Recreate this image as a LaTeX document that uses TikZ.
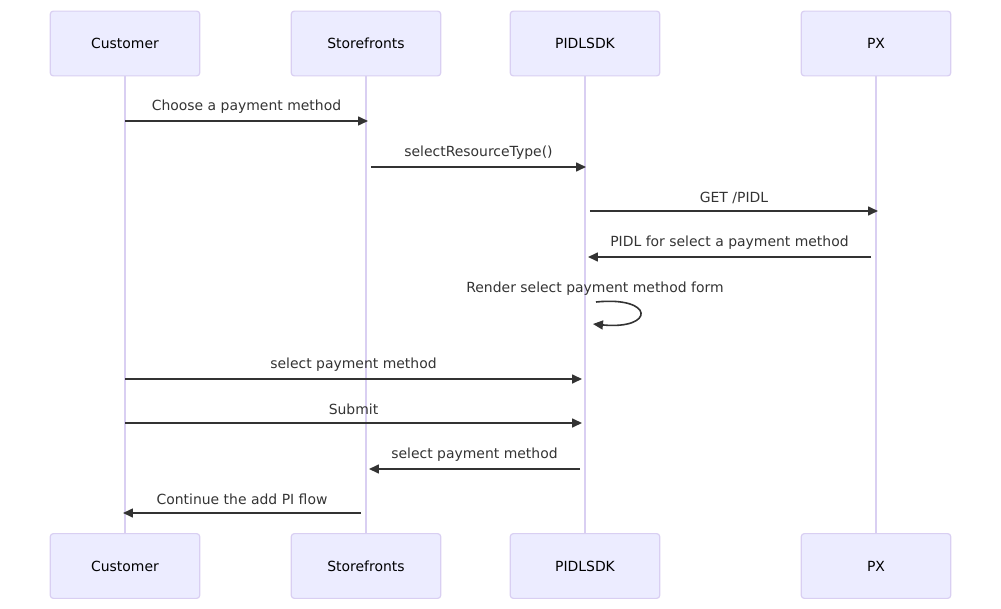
\documentclass[tikz,border=0pt]{standalone}
\usepackage{fontspec}
\setmainfont{DejaVu Sans}
\usetikzlibrary{arrows.meta}
\definecolor{actorfill}{HTML}{ECECFF}
\definecolor{actorline}{HTML}{D9CFF2}
\definecolor{ink}{HTML}{333333}
\tikzset{
    actor/.style = {rectangle, rounded corners=3, draw=actorline, fill=actorfill, line width=1.2,
                    minimum width=150, minimum height=65, inner sep=0, text=black, font=\fontsize{14}{16}\selectfont},
    life/.style = {draw=actorline, line width=1.5},
    msg/.style = {-{Triangle[length=10pt,width=9pt]}, ink, line width=1.6},
    msglabel/.style = {text=ink, font=\fontsize{14}{16}\selectfont, inner sep=0, text height=11, text depth=3},
}

\begin{document}
\begin{tikzpicture}[x=1bp,y=-1bp]
\useasboundingbox (0,0) rectangle (1001,609);
% actors, top and bottom
\node[actor] at (125, 43.5) (custT) {Customer};
\node[actor] at (366, 43.5) (storeT) {Storefronts};
\node[actor] at (585, 43.5) (sdkT) {PIDLSDK};
\node[actor] at (876, 43.5) (pxT) {PX};
\node[actor] at (125, 566) (custB) {Customer};
\node[actor] at (366, 566) (storeB) {Storefronts};
\node[actor] at (585, 566) (sdkB) {PIDLSDK};
\node[actor] at (876, 566) (pxB) {PX};
%
\draw[life] (custT) -- (custB);
\draw[life] (storeT) -- (storeB);
\draw[life] (sdkT) -- (sdkB);
\draw[life] (pxT) -- (pxB);
% message rows
\coordinate (r1) at (0,121);
\coordinate (r2) at (0,167);
\coordinate (r3) at (0,211);
\coordinate (r4) at (0,257);
\coordinate (r6) at (0,379);
\coordinate (r7) at (0,423);
\coordinate (r8) at (0,469);
\coordinate (r9) at (0,513);
%
\draw[msg] (custT |- r1) -- node[msglabel, above=7] {Choose a payment method} ([xshift=2]storeT |- r1);
\draw[msg] ([xshift=5]storeT |- r2) -- node[msglabel, above=7] {selectResourceType()} ([xshift=1]sdkT |- r2);
\draw[msg] ([xshift=5]sdkT |- r3) -- node[msglabel, above=5] {GET /PIDL} ([xshift=2]pxT |- r3);
\draw[msg] ([xshift=-5]pxT |- r4) -- node[msglabel, above=7] {PIDL for select a payment method} ([xshift=3]sdkT |- r4);
% self message
\node[msglabel] at (595, 289) (selfl) {Render select payment method form};
\coordinate (s1) at (596, 302);
\coordinate (s2) at (593, 324);
\draw[msg] (s1) .. controls (655, 296) and (655, 330) .. (s2);
%
\draw[msg] (custT |- r6) -- node[msglabel, above=7] {select payment method} ([xshift=-3]sdkT |- r6);
\draw[msg] (custT |- r7) -- node[msglabel, above=5] {Submit} ([xshift=-3]sdkT |- r7);
\draw[msg] ([xshift=-5]sdkT |- r8) -- node[msglabel, above=7] {select payment method} ([xshift=3]storeT |- r8);
\draw[msg] ([xshift=-5]storeT |- r9) -- node[msglabel, above=5] {Continue the add PI flow} ([xshift=-2]custT |- r9);
\end{tikzpicture}
\end{document}
